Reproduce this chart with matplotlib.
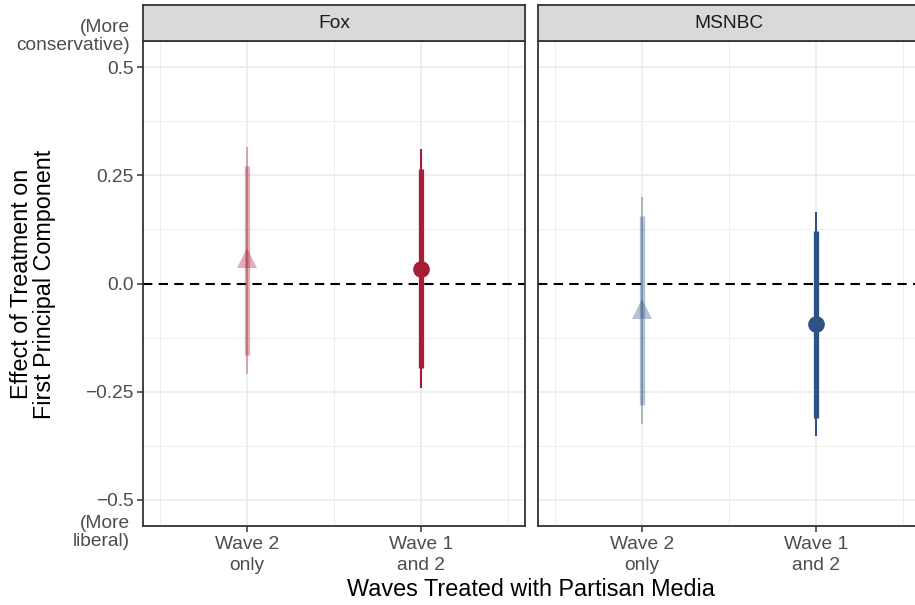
import numpy as np
import matplotlib
matplotlib.use("Agg")
from matplotlib import pyplot as plt

plt.rcParams['font.family'] = ['Liberation Sans', 'DejaVu Sans']

# data
networks = ["Fox", "MSNBC"]
wave_labels = ["Wave 2\nonly", "Wave 1\nand 2"]
estimate = {"Fox": [0.058, 0.034], "MSNBC": [-0.058, -0.093]}
ci90_lo = {"Fox": [-0.166, -0.196], "MSNBC": [-0.282, -0.310]}
ci90_hi = {"Fox": [0.272, 0.264], "MSNBC": [0.155, 0.122]}
ci95_lo = {"Fox": [-0.209, -0.241], "MSNBC": [-0.325, -0.352]}
ci95_hi = {"Fox": [0.316, 0.311], "MSNBC": [0.199, 0.165]}
colors = {"Fox": "#A51D36", "MSNBC": "#2D5287"}
alphas = [0.35, 1.0]
markers = ["^", "o"]
msizes = [15, 12]

W, H = 915, 605
fig = plt.figure(figsize=(W / 100, H / 100), dpi=100)

grey20 = "#333333"
grey30 = "#4D4D4D"
grid_c = "#EBEBEB"
tick_fs = 13.8

panel_left = [143, 538]
panel_w = 382
panel_top, panel_bot = 41, 526
strip_top = 5

x = np.array([1, 2])

for i, net in enumerate(networks):
    l = panel_left[i]
    ax = fig.add_axes([l / W, (H - panel_bot) / H, panel_w / W, (panel_bot - panel_top) / H])
    ax.set_xlim(0.4, 2.6)
    ax.set_ylim(-0.561, 0.561)
    # grid
    for gx in [0.5, 1.5, 2.5]:
        ax.axvline(gx, color=grid_c, lw=0.6, zorder=0)
    for gx in [1, 2]:
        ax.axvline(gx, color=grid_c, lw=1.2, zorder=0)
    for gy in [-0.375, -0.125, 0.125, 0.375]:
        ax.axhline(gy, color=grid_c, lw=0.6, zorder=0)
    for gy in [-0.5, -0.25, 0.25, 0.5]:
        ax.axhline(gy, color=grid_c, lw=1.2, zorder=0)
    ax.axhline(0, color="black", lw=1.5, dashes=(4.5, 3), zorder=1)

    for j in range(2):
        c = colors[net]
        ax.plot([x[j], x[j]], [ci95_lo[net][j], ci95_hi[net][j]], color=c, alpha=alphas[j],
                lw=1.5, solid_capstyle="butt", zorder=2)
        ax.plot([x[j], x[j]], [ci90_lo[net][j], ci90_hi[net][j]], color=c, alpha=alphas[j],
                lw=3.8, solid_capstyle="butt", zorder=2)
        ax.plot(x[j], estimate[net][j], marker=markers[j], color=c, alpha=alphas[j],
                ms=msizes[j], mew=0, zorder=3, linestyle="none")

    ax.tick_params(colors=grey20, length=4, width=1.1, pad=3)
    ax.set_xticks(x)
    ax.set_xticklabels(wave_labels, color=grey30, fontsize=tick_fs, linespacing=1.3)
    ax.set_yticks([-0.5, -0.25, 0, 0.25, 0.5])
    if i == 0:
        ax.set_yticklabels(["\u22120.5", "\u22120.25", "0.0", "0.25", "0.5"], color=grey30, fontsize=tick_fs)
        ax.text(-0.035, 0.572, "(More\nconservative)", transform=ax.get_yaxis_transform(),
                ha="right", va="center", color=grey30, fontsize=tick_fs, linespacing=1.1, clip_on=False)
        ax.text(-0.035, -0.576, "(More\nliberal)", transform=ax.get_yaxis_transform(),
                ha="right", va="center", color=grey30, fontsize=tick_fs, linespacing=1.1, clip_on=False)
    else:
        ax.set_yticklabels([])
        ax.tick_params(axis="y", length=0)
    for s in ax.spines.values():
        s.set_color(grey20)
        s.set_linewidth(1.3)

    # facet strip
    sax = fig.add_axes([l / W, (H - panel_top) / H, panel_w / W, (panel_top - strip_top) / H])
    sax.set_facecolor("#D9D9D9")
    sax.set_xticks([])
    sax.set_yticks([])
    for s in sax.spines.values():
        s.set_color(grey20)
        s.set_linewidth(1.3)
    sax.text(0.5, 0.5, net, ha="center", va="center", color="#1A1A1A", fontsize=tick_fs,
             transform=sax.transAxes)

fig.text(531 / W, 1 - 590 / H, "Waves Treated with Partisan Media", ha="center", va="center",
         fontsize=16.8, color="black")
fig.text(33 / W, 1 - 284 / H, "Effect of Treatment on\nFirst Principal Component", ha="center",
         va="center", rotation=90, fontsize=16.8, color="black", linespacing=1.05)

fig.savefig("out.png", dpi=100)
